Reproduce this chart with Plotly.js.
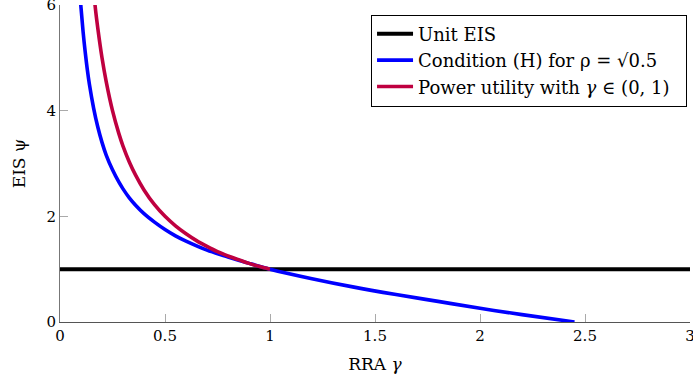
<!DOCTYPE html>
<html>
<head>
<meta charset="utf-8">
<script src="https://cdn.plot.ly/plotly-3.0.1.min.js"></script>
<style>
html,body{margin:0;padding:0;background:#fff;}
#chart{width:693px;height:383px;}
</style>
</head>
<body>
<div id="chart"></div>
<script>
// Unit EIS
const unitX = [0, 3];
const unitY = [1, 1];

// Condition (H) for rho = sqrt(0.5)
const condX = [0.09, 0.10, 0.11, 0.12, 0.13, 0.14, 0.16, 0.18, 0.20, 0.22, 0.25, 0.28, 0.30, 0.33, 0.36, 0.40, 0.45, 0.50, 0.55, 0.60, 0.70, 0.80, 0.90, 1.00, 1.20, 1.40, 1.60, 1.80, 2.00, 2.20, 2.45];
const condY = [6.51, 5.95, 5.49, 5.11, 4.78, 4.50, 4.05, 3.69, 3.40, 3.16, 2.88, 2.65, 2.52, 2.35, 2.21, 2.05, 1.89, 1.75, 1.63, 1.53, 1.36, 1.23, 1.11, 1.00, 0.82, 0.66, 0.52, 0.39, 0.26, 0.14, 0.00];

// Power utility with gamma in (0,1)
const powX = [0.15, 0.16, 0.17, 0.18, 0.20, 0.22, 0.25, 0.28, 0.30, 0.33, 0.36, 0.40, 0.45, 0.50, 0.55, 0.60, 0.65, 0.70, 0.75, 0.80, 0.85, 0.90, 0.95, 1.00];
const powY = [6.67, 6.25, 5.88, 5.56, 5.00, 4.55, 4.00, 3.57, 3.33, 3.03, 2.78, 2.50, 2.22, 2.00, 1.82, 1.67, 1.54, 1.43, 1.33, 1.25, 1.18, 1.11, 1.05, 1.00];

const xTicks = [0, 0.5, 1, 1.5, 2, 2.5, 3];
const xTickText = ['0', '0.5', '1', '1.5', '2', '2.5', '3'];
const yTicks = [0, 2, 4, 6];
const yTickText = ['0', '2', '4', '6'];

const seriesNames = [
  'Unit EIS',
  'Condition (H) for \u03c1 = \u221a0.5',
  'Power utility with <i>\u03b3</i> \u2208 (0, 1)\u00a0\u00a0'
];

const FONT = 'DejaVu Serif, Liberation Serif, serif';

const traces = [
  {x: unitX, y: unitY, mode: 'lines', name: seriesNames[0],
   line: {color: '#000000', width: 4}},
  {x: condX, y: condY, mode: 'lines', name: seriesNames[1],
   line: {color: '#0000ff', width: 3.6, shape: 'spline', smoothing: 1}},
  {x: powX, y: powY, mode: 'lines', name: seriesNames[2],
   line: {color: '#bf0040', width: 3.6, shape: 'spline', smoothing: 1}}
];

const layout = {
  width: 693, height: 383,
  margin: {l: 60, r: 3, t: 5, b: 61},
  paper_bgcolor: '#ffffff', plot_bgcolor: '#ffffff',
  font: {family: FONT, size: 16, color: '#000'},
  showlegend: true,
  legend: {
    x: 0.9953, xanchor: 'right', y: 0.97, yanchor: 'top',
    bordercolor: '#000', borderwidth: 1, bgcolor: '#fff',
    font: {family: FONT, size: 18, color: '#000'},
    tracegroupgap: 0, itemwidth: 36
  },
  xaxis: {
    range: [0, 3], tickmode: 'array', tickvals: xTicks, ticktext: xTickText,
    ticks: 'inside', ticklen: 8, tickcolor: '#aaaaaa', tickwidth: 1,
    showline: true, linecolor: '#555555', linewidth: 1,
    showgrid: false, zeroline: false, mirror: false,
    ticklabeloverflow: 'allow',
    tickfont: {family: FONT, size: 15, color: '#000'},
    title: {text: 'RRA <i>\u03b3</i>', font: {family: FONT, size: 17, color: '#000'}, standoff: 14}
  },
  yaxis: {
    range: [0, 6], tickmode: 'array', tickvals: yTicks, ticktext: yTickText,
    ticks: 'inside', ticklen: 8, tickcolor: '#aaaaaa', tickwidth: 1,
    showline: true, linecolor: '#777777', linewidth: 1,
    showgrid: false, zeroline: false, mirror: false,
    ticklabeloverflow: 'allow',
    tickfont: {family: FONT, size: 15, color: '#000'},
    title: {text: 'EIS \u03c8', font: {family: FONT, size: 17, color: '#000'}, standoff: 16}
  }
};

Plotly.newPlot('chart', traces, layout, {staticPlot: true, displayModeBar: false});
</script>
</body>
</html>
